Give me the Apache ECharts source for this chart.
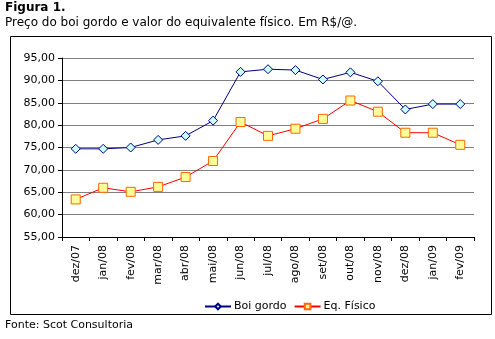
<!DOCTYPE html>
<html>
<head>
<meta charset="utf-8">
<script src="https://cdn.jsdelivr.net/npm/echarts@6/dist/echarts.min.js"></script>
<style>
html,body{margin:0;padding:0;background:#fff;}
#c{width:495px;height:339px;}
</style>
</head>
<body>
<div id="c"></div>
<script>
const categories = ['dez/07','jan/08','fev/08','mar/08','abr/08','mai/08','jun/08','jul/08','ago/08','set/08','out/08','nov/08','dez/08','jan/09','fev/09'];
const boiGordo = [74.7, 74.7, 75.0, 76.7, 77.6, 81.0, 91.9, 92.5, 92.3, 90.2, 91.8, 89.8, 83.5, 84.7, 84.7];
const eqFisico = [63.4, 66.0, 65.1, 66.2, 68.4, 72.0, 80.7, 77.6, 79.2, 81.4, 85.5, 83.0, 78.3, 78.3, 75.6];
const seriesNames = ['Boi gordo', 'Eq. Físico'];
const titleText = 'Figura 1.';
const subtitleText = 'Preço do boi gordo e valor do equivalente físico. Em R$/@.';
const sourceText = 'Fonte: Scot Consultoria';

const FONT = '"DejaVu Sans", Verdana, sans-serif';
const chart = echarts.init(document.getElementById('c'), null, {renderer: 'canvas'});
chart.setOption({
  animation: false,
  backgroundColor: '#fff',
  textStyle: {fontFamily: FONT},
  graphic: [
    {type: 'text', left: 5, top: 2, style: {text: titleText, font: 'bold 12px ' + FONT, fill: '#000'}},
    {type: 'text', left: 5, top: 17, style: {text: subtitleText, font: '12px ' + FONT, fill: '#000'}},
    {type: 'rect', shape: {x: 10.5, y: 36.5, width: 481, height: 278}, style: {fill: 'none', stroke: '#000', lineWidth: 1}, z: -1},
    {type: 'text', left: 5, top: 320, style: {text: sourceText, font: '11px ' + FONT, fill: '#000'}}
  ],
  legend: {
    left: 199, top: 296,
    itemGap: 7,
    itemWidth: 26, itemHeight: 7,
    textStyle: {fontFamily: FONT, fontSize: 11, color: '#000', padding: [0, 0, 0, -2]},
    data: seriesNames
  },
  grid: {left: 62, right: 21, top: 58, bottom: 102, containLabel: false},
  xAxis: {
    type: 'category',
    data: categories,
    boundaryGap: true,
    axisLine: {lineStyle: {color: '#000', width: 1}},
    axisTick: {show: true, length: 4, lineStyle: {color: '#000'}},
    axisLabel: {rotate: 90, fontSize: 11, color: '#000', fontFamily: FONT, margin: 8, interval: 0}
  },
  yAxis: {
    type: 'value',
    min: 55, max: 95, interval: 5,
    axisLine: {show: true, lineStyle: {color: '#000', width: 1}},
    axisTick: {show: true, length: 4, lineStyle: {color: '#000'}},
    axisLabel: {fontSize: 11, color: '#000', fontFamily: FONT, margin: 7,
      formatter: v => v.toFixed(2).replace('.', ',')},
    splitLine: {show: true, lineStyle: {color: '#808080', width: 1}}
  },
  series: [
    {
      name: seriesNames[0], type: 'line', data: boiGordo,
      symbol: 'diamond', symbolSize: 9,
      lineStyle: {color: '#000080', width: 1},
      itemStyle: {color: '#CCFFFF', borderColor: '#000080', borderWidth: 1}
    },
    {
      name: seriesNames[1], type: 'line', data: eqFisico,
      symbol: 'rect', symbolSize: 9,
      lineStyle: {color: '#FF0000', width: 1},
      itemStyle: {color: '#FFFF99', borderColor: '#FF6600', borderWidth: 1}
    }
  ]
});
</script>
</body>
</html>
